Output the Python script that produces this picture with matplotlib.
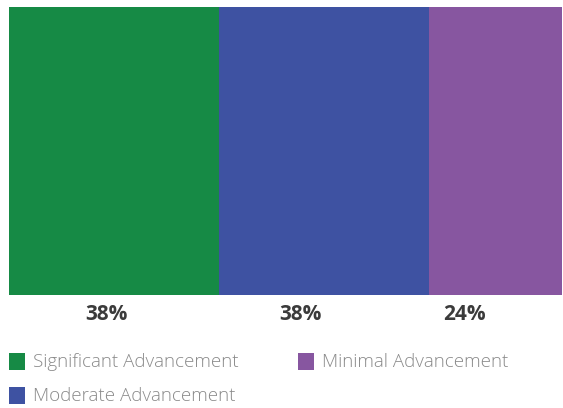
import matplotlib.pyplot as plt
from matplotlib.patches import Rectangle

categories = ['Significant Advancement', 'Moderate Advancement', 'Minimal Advancement']
shares = [38, 38, 24]
colors = ['#168a45', '#3e52a2', '#8756a0']
# where each percentage sits along the bar (in share units)
label_x = [17.6, 52.7, 82.4]

fig = plt.figure(figsize=(5.63, 4.08), dpi=100)
W, H = 563, 408

# the stacked bar fills the top of the figure
ax = fig.add_axes([9 / W, 1 - 295 / H, 553 / W, 288 / H])
left = 0
for share, color, lx in zip(shares, colors, label_x):
    ax.barh(0, share, left=left, height=1, color=color, linewidth=0)
    ax.text(lx, -20 / 288, f'{share}%', transform=ax.get_xaxis_transform(),
            ha='center', va='center', fontsize=15, fontweight='bold',
            family='Open Sans', color='#3b3b3b', clip_on=False)
    left += share
ax.set_xlim(0, sum(shares))
ax.set_ylim(-0.5, 0.5)
ax.axis('off')

# legend drawn by hand: two columns, filled column-wise
spots = [(9, 362), (9, 396), (298, 362)]
for (px, py), label, color in zip(spots, categories, colors):
    fig.patches.append(Rectangle((px / W, 1 - (py + 8) / H), 16 / W, 17 / H,
                                 transform=fig.transFigure, color=color, linewidth=0))
    fig.text((px + 24) / W, 1 - py / H, label, ha='left', va='center',
             fontsize=13.5, family='Open Sans', fontweight='light', color='#8a8a8a')

fig.savefig('out.png', dpi=100)
